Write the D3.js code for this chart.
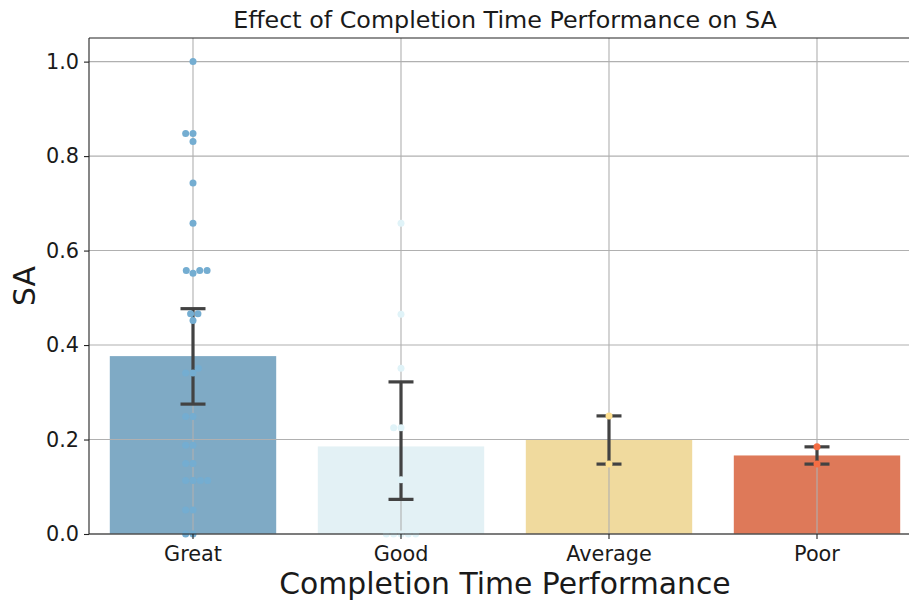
<!DOCTYPE html>
<html>
<head>
<meta charset="utf-8">
<script src="https://cdn.jsdelivr.net/npm/d3@7"></script>
<style>
  html, body { margin: 0; padding: 0; background: #ffffff; }
  svg { display: block; font-family: "DejaVu Sans", sans-serif; }
</style>
</head>
<body>
<svg id="chart" width="909" height="603"></svg>
<script>
// Categories and per-participant SA scores in each completion-time group
const categories = ["Great", "Good", "Average", "Poor"];
const greatScores = [1.0, 0.848, 0.848, 0.831, 0.743, 0.658, 0.558, 0.558, 0.558, 0.552,
  0.466, 0.466, 0.452, 0.351, 0.341, 0.341, 0.249, 0.249, 0.188, 0.188,
  0.149, 0.149, 0.113, 0.113, 0.113, 0.113, 0.051, 0.051, 0.0, 0.0];
const goodScores = [0.658, 0.465, 0.351, 0.225, 0.225, 0.115, 0.0, 0.0, 0.0, 0.0, 0.0];
const averageScores = [0.25, 0.148];
const poorScores = [0.1845, 0.148];
// 95% confidence interval bounds of the mean
const ciLow = [0.275, 0.0733, 0.148, 0.148];
const ciHigh = [0.477, 0.322, 0.25, 0.1845];
const yTicks = [0.0, 0.2, 0.4, 0.6, 0.8, 1.0];

const pointColors = ["#74add1", "#e0f3f8", "#fee090", "#f46d43"];
const barColors = ["#7faac5", "#e3f1f5", "#f0da9e", "#de7959"];

const scores = [greatScores, goodScores, averageScores, poorScores];
const means = scores.map(s => d3.mean(s));

const svg = d3.select("#chart");
const plotLeft = 89, plotRight = 921, plotTop = 38, plotBottom = 534;

const x = d3.scaleBand().domain(categories).range([plotLeft, plotRight])
  .paddingInner(0.2).paddingOuter(0.1);
const y = d3.scaleLinear().domain([0, 1.05]).range([plotBottom, plotTop]);
const xc = c => x(c) + x.bandwidth() / 2;

// Bars
svg.append("g").selectAll("rect").data(categories).join("rect")
  .attr("x", d => x(d)).attr("width", x.bandwidth())
  .attr("y", (d, i) => y(means[i]))
  .attr("height", (d, i) => y(0) - y(means[i]))
  .attr("fill", (d, i) => barColors[i]);

// Grid
const grid = svg.append("g").attr("stroke", "#b0b0b0").attr("stroke-width", 1.1);
grid.selectAll(".hg").data(yTicks).join("line")
  .attr("x1", plotLeft).attr("x2", plotRight)
  .attr("y1", d => y(d)).attr("y2", d => y(d));
grid.selectAll(".vg").data(categories).join("line")
  .attr("x1", d => xc(d)).attr("x2", d => xc(d))
  .attr("y1", plotTop).attr("y2", plotBottom);

// Error bars
const err = svg.append("g").attr("stroke", "#424242").attr("stroke-width", 3.2);
categories.forEach((c, i) => {
  const cx = xc(c), cap = 12.5;
  err.append("line").attr("x1", cx).attr("x2", cx)
    .attr("y1", y(ciLow[i])).attr("y2", y(ciHigh[i]));
  err.append("line").attr("x1", cx - cap).attr("x2", cx + cap)
    .attr("y1", y(ciLow[i])).attr("y2", y(ciLow[i]));
  err.append("line").attr("x1", cx - cap).attr("x2", cx + cap)
    .attr("y1", y(ciHigh[i])).attr("y2", y(ciHigh[i]));
});

// Beeswarm layout: place each point at the nearest non-overlapping offset
function swarm(values, cx, r) {
  const order = values.map((v, i) => ({ v, i })).sort((a, b) => a.v - b.v);
  const placed = [];
  const d = 2 * r;
  order.forEach(o => {
    const py = y(o.v);
    const cands = [cx];
    let leftFirst = true;
    for (let k = placed.length - 1; k >= 0; k--) {
      const p = placed[k];
      const dy = py - p.y;
      if (Math.abs(dy) < d) {
        const dx = Math.sqrt(Math.max(d * d - dy * dy, 0)) * 1.05;
        if (leftFirst) cands.push(p.x - dx, p.x + dx);
        else cands.push(p.x + dx, p.x - dx);
        leftFirst = !leftFirst;
      }
    }
    const sorted = cands.map((c, idx) => ({ c, idx }))
      .sort((a, b) => (Math.abs(a.c - cx) - Math.abs(b.c - cx)) || (a.idx - b.idx));
    let chosen = cx;
    for (const s of sorted) {
      const ok = placed.every(p => Math.hypot(p.x - s.c, p.y - py) >= d - 1e-6);
      if (ok) { chosen = s.c; break; }
    }
    placed.push({ x: chosen, y: py });
  });
  return placed;
}

const pts = svg.append("g");
categories.forEach((c, i) => {
  const layout = swarm(scores[i], xc(c), 3.5);
  pts.append("g").selectAll("circle").data(layout).join("circle")
    .attr("cx", p => p.x).attr("cy", p => p.y).attr("r", 3.5)
    .attr("fill", pointColors[i]);
});

// Spines
const sp = svg.append("g").attr("stroke", "#222").attr("stroke-width", 1.1).attr("fill", "none");
sp.append("line").attr("x1", plotLeft).attr("x2", plotLeft).attr("y1", plotTop).attr("y2", plotBottom);
sp.append("line").attr("x1", plotLeft).attr("x2", plotRight).attr("y1", plotBottom).attr("y2", plotBottom);
sp.append("line").attr("x1", plotLeft).attr("x2", plotRight).attr("y1", plotTop).attr("y2", plotTop);
sp.append("line").attr("x1", plotRight).attr("x2", plotRight).attr("y1", plotTop).attr("y2", plotBottom);

// Axes
const yAxis = d3.axisLeft(y).tickValues(yTicks).tickFormat(d3.format(".1f"))
  .tickSize(5).tickPadding(5);
const gy = svg.append("g").attr("transform", `translate(${plotLeft},0)`).call(yAxis);
gy.select(".domain").remove();
gy.selectAll(".tick line").attr("stroke", "#222").attr("stroke-width", 1.1);
gy.selectAll(".tick text").attr("font-size", 20.8).attr("fill", "#1a1a1a")
  .attr("font-family", "DejaVu Sans");

const xAxis = d3.axisBottom(x).tickSize(5).tickPadding(7);
const gx = svg.append("g").attr("transform", `translate(0,${plotBottom})`).call(xAxis);
gx.select(".domain").remove();
gx.selectAll(".tick line").attr("stroke", "#222").attr("stroke-width", 1.1);
gx.selectAll(".tick text").attr("font-size", 20.8).attr("fill", "#1a1a1a")
  .attr("font-family", "DejaVu Sans");

// Titles
svg.append("text").attr("x", (plotLeft + plotRight) / 2).attr("y", 28)
  .attr("text-anchor", "middle").attr("font-size", 23.8).attr("fill", "#1a1a1a")
  .text("Effect of Completion Time Performance on SA");
svg.append("text").attr("x", (plotLeft + plotRight) / 2).attr("y", 594)
  .attr("text-anchor", "middle").attr("font-size", 29.8).attr("fill", "#1a1a1a")
  .text("Completion Time Performance");
svg.append("text").attr("transform", `translate(35,${(plotTop + plotBottom) / 2}) rotate(-90)`)
  .attr("text-anchor", "middle").attr("font-size", 29.8).attr("fill", "#1a1a1a")
  .text("SA");
</script>
</body>
</html>
